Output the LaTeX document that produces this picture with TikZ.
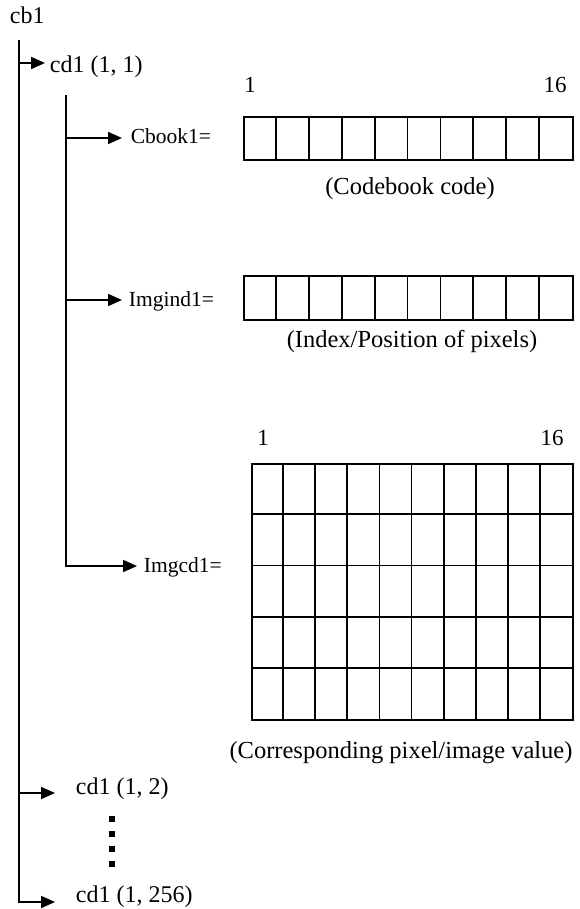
\documentclass[tikz,border=0pt]{standalone}
\usepackage{fontspec}
\setmainfont{Liberation Serif}
\usetikzlibrary{arrows.meta}
\begin{document}
\begin{tikzpicture}[x=1pt,y=-1pt,line width=1.8pt,
  arr/.style={-{Triangle[length=14pt,width=12pt]}},
  lbl/.style={anchor=base west,inner sep=0pt,font=\fontsize{24}{28}\selectfont},
  sublbl/.style={anchor=base west,inner sep=0pt,font=\fontsize{21.5}{24}\selectfont},
  captext/.style={anchor=base,inner sep=0pt,font=\fontsize{24.5}{28}\selectfont},
  num/.style={anchor=base,inner sep=0pt,font=\fontsize{23}{26}\selectfont},
  box/.style={draw,inner sep=0pt,anchor=north west}]
\useasboundingbox (0,0) rectangle (580,909);

% labels on the left
\node[lbl] (cb) at (9,24) {cb1};
\node[lbl] (c11) at (49,73) {cd1 (1, 1)};
\node[lbl] (c12) at (75,794) {cd1 (1, 2)};
\node[lbl] (c1256) at (75,902) {cd1 (1, 256)};
\node[sublbl] (cbook) at (130,144) {Cbook1=};
\node[sublbl] (imgind) at (128,306) {Imgind1=};
\node[sublbl] (imgcd) at (143,572) {Imgcd1=};

% trunk
\coordinate (t0) at (19,40);
\coordinate (t1) at (19,63);
\coordinate (t2) at (19,793);
\coordinate (t3) at (19,902);
\draw[arr,shorten >=20pt] (t0) -- (t3) -- (t3 -| c1256.west);
\draw[arr,shorten >=4pt] (t1) -- (t1 -| c11.west);
\draw[arr,shorten >=20pt] (t2) -- (t2 -| c12.west);

% second-level branch
\coordinate (s0) at (66,95);
\coordinate (s1) at (66,138);
\coordinate (s2) at (66,300);
\coordinate (s3) at (66,566);
\draw[arr,shorten >=6pt] (s0) -- (s3) -- (s3 -| imgcd.west);
\draw[arr,shorten >=8pt] (s1) -- (s1 -| cbook.west);
\draw[arr,shorten >=6pt] (s2) -- (s2 -| imgind.west);

% array 1
\node[num] (n1a) at (250,93) {1};
\node[num] (n16a) at (555,93) {16};
\node[box,minimum width=329pt,minimum height=43pt] (a1) at (243,116) {};
\foreach \i in {1,...,9} \draw (243+\i*32.9,116) -- (243+\i*32.9,159);
\node[captext] (cap1) at (410,195) {(Codebook code)};

% array 2
\node[box,minimum width=329pt,minimum height=44pt] (a2) at (243,275) {};
\foreach \i in {1,...,9} \draw (243+\i*32.9,275) -- (243+\i*32.9,319);
\node[captext] (cap2) at (412,347) {(Index/Position of pixels)};

% grid
\node[num] (n1b) at (263,445) {1};
\node[num] (n16b) at (552,445) {16};
\node[box,minimum width=321pt,minimum height=256pt] (g) at (251,463) {};
\foreach \i in {1,...,9} \draw (251+\i*32.1,463) -- (251+\i*32.1,719);
\foreach \j in {1,...,4} \draw (251,463+\j*51.2) -- (572,463+\j*51.2);
\node[captext] (cap3) at (401,758) {(Corresponding pixel/image value)};

% vertical dots
\foreach \y in {819,834,849,864} \fill (109,\y-3) rectangle (115,\y+3);
\end{tikzpicture}
\end{document}
